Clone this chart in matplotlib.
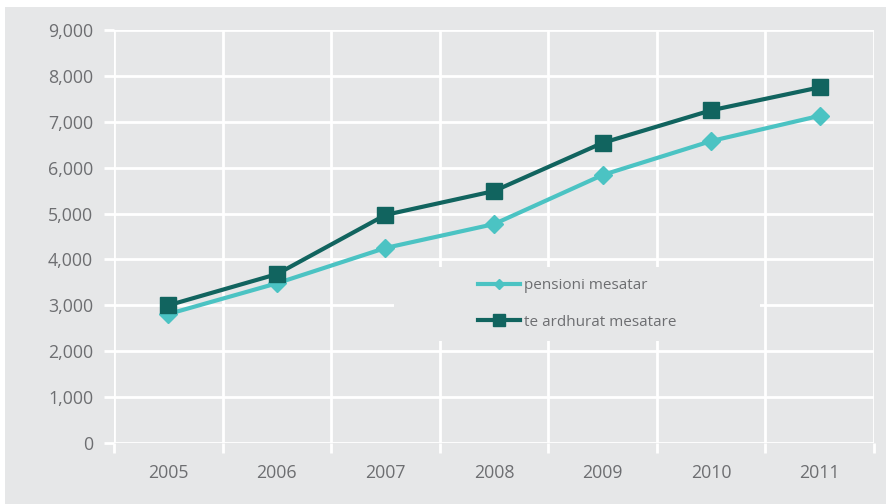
import matplotlib
matplotlib.use('Agg')
import matplotlib.pyplot as plt
from matplotlib.patches import Rectangle
from matplotlib.lines import Line2D
from matplotlib.ticker import FuncFormatter

# Data
years = ['2005', '2006', '2007', '2008', '2009', '2010', '2011']
pensioni_mesatar = [2810, 3480, 4250, 4770, 5840, 6580, 7130]
te_ardhurat_mesatare = [3000, 3680, 4970, 5490, 6540, 7250, 7750]

bg = '#e6e7e8'
text_col = '#6d6e71'
light = '#4bc3c3'
dark = '#11645f'

plt.rcParams['font.family'] = ['Open Sans', 'DejaVu Sans']

fig = plt.figure(figsize=(8.86, 5.04), dpi=100)
fig.patch.set_facecolor('white')
# grey panel behind everything, leaving a thin white strip at the left and top
fig.patches.append(Rectangle((5 / 886, 0), 1, (504 - 7) / 504, transform=fig.transFigure,
                             facecolor=bg, edgecolor='none', zorder=-10))

ax = fig.add_axes([114 / 886, 61 / 504, 760 / 886, 413 / 504])
ax.set_facecolor(bg)
x = list(range(len(years)))

ax.plot(x, pensioni_mesatar, color=light, lw=3, marker='D', ms=9, zorder=3)
ax.plot(x, te_ardhurat_mesatare, color=dark, lw=3, marker='s', ms=11, zorder=4)

ax.set_xlim(-0.5, len(years) - 0.5)
ax.set_ylim(0, 9000)
ax.set_yticks(range(0, 9001, 1000))
ax.yaxis.set_major_formatter(FuncFormatter(lambda v, p: f'{int(v):,}'))
ax.set_xticks(x)
ax.set_xticklabels(years)
ax.set_xticks([i - 0.5 for i in range(len(years) + 1)], minor=True)

ax.set_axisbelow(True)
ax.grid(axis='y', which='major', color='white', lw=2)
ax.grid(axis='x', which='minor', color='white', lw=2)
ax.grid(axis='x', which='major', visible=False)
for s in ax.spines.values():
    s.set_visible(False)

ax.tick_params(axis='y', length=7, width=2, color='white', pad=8, labelsize=12.8, labelcolor=text_col)
ax.tick_params(axis='x', which='major', length=0, pad=15, labelsize=12.8, labelcolor=text_col)
ax.tick_params(axis='x', which='minor', length=7, width=2, color='white')

# grey box behind the legend, hiding the grid
ax.add_patch(Rectangle((0.368, 0.247), 0.482, 0.179, transform=ax.transAxes,
                       facecolor=bg, edgecolor='none', zorder=1))
handles = [Line2D([], [], color=light, lw=3, marker='D', ms=5),
           Line2D([], [], color=dark, lw=3, marker='s', ms=8)]
leg = ax.legend(handles, ['pensioni mesatar', 'te ardhurat mesatare'], loc='center',
                bbox_to_anchor=(0.609, 0.3365), frameon=False, fontsize=11,
                handlelength=2.8, handletextpad=0.2, labelspacing=1.4)
for t in leg.get_texts():
    t.set_color(text_col)

fig.savefig('out.png', dpi=100, facecolor='white')
